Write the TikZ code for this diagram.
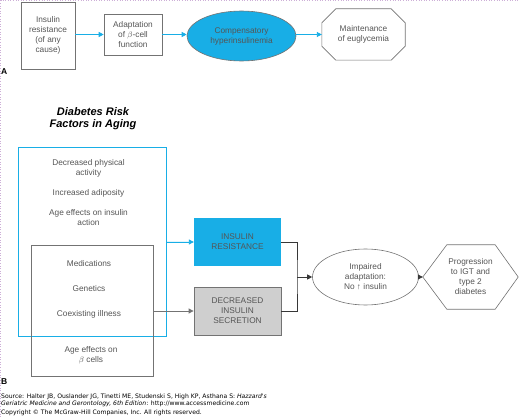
\documentclass[tikz,border=0pt]{standalone}
\usepackage{fontspec}
\setmainfont{Liberation Sans}
\newfontfamily\srcfont{DejaVu Sans}
\usepackage{tikz}
\usetikzlibrary{shapes.geometric,positioning,arrows.meta}

\definecolor{figcyan}{RGB}{24,174,230}
\definecolor{figtext}{RGB}{85,85,85}
\definecolor{figline}{RGB}{115,115,115}
\definecolor{figdark}{RGB}{55,55,55}
\definecolor{figgray}{RGB}{207,207,207}
\definecolor{figedge}{RGB}{205,175,215}

\begin{document}
\begin{tikzpicture}[x=1pt,y=-1pt,>={Triangle[length=5pt,width=5pt]},
  font=\fontsize{8.3}{10}\selectfont,
  every node/.style={text=figtext,align=center,inner sep=0pt},
  abox/.style={draw=figline,line width=0.6pt},
  bluearrow/.style={->,draw=figcyan,fill=figcyan,line width=0.9pt},
  darkarrow/.style={->,draw=figdark,line width=0.8pt},
  panel/.style={text=black,font=\fontsize{8.5}{10}\bfseries\selectfont},
  source/.style={anchor=west,text=black,font=\fontsize{6.1}{7}\srcfont}]
\useasboundingbox (0,0) rectangle (520,417);
\draw[figedge,dotted,line width=0.6pt] (0.5,417) -- (0.5,0.5) -- (520,0.5);

% panel A
\node[abox,minimum width=54pt,minimum height=67pt] (insres) at (48,35.5) {Insulin\\resistance\\(of any\\cause)};
\node[abox,minimum width=58pt,minimum height=41pt] (adapt) at (133,34.5) {Adaptation\\of $\beta$-cell\\function};
\node[ellipse,draw=figline,line width=0.6pt,fill=figcyan,minimum width=109pt,minimum height=50pt] (comp) at (241.5,36) {Compensatory\\hyperinsulinemia};
\node[minimum width=83pt,minimum height=51pt] (maint) at (363.5,34.5) {Maintenance\\of euglycemia};
\draw[abox] ([xshift=14pt]maint.north west) -- ([xshift=-14pt]maint.north east) -- ([yshift=-14pt]maint.north east)
  -- ([yshift=14pt]maint.south east) -- ([xshift=-14pt]maint.south east) -- ([xshift=14pt]maint.south west)
  -- ([yshift=14pt]maint.south west) -- ([yshift=-14pt]maint.north west) -- cycle;
\draw[bluearrow] (insres.east |- adapt) -- (adapt.west);
\draw[bluearrow] (adapt.east) -- (comp.west |- adapt);
\draw[bluearrow] (comp.east |- adapt) -- (maint.west |- adapt);
\node[panel,anchor=west] (labA) at (1,72) {A};

% panel B
\node[text=black,font=\fontsize{11}{12}\bfseries\itshape\selectfont] (title) at (93,118.5) {Diabetes Risk\\Factors in Aging};
\node[draw=figcyan,line width=1pt,minimum width=148pt,minimum height=188pt] (riskbox) at (92,242) {};
\node[draw=figline,line width=0.8pt,minimum width=122pt,minimum height=131pt] (betabox) at (92,310.5) {};
\node (physact) at (88.5,168) {Decreased physical\\activity};
\node (adipos) at (88.5,193) {Increased adiposity};
\node (insact) at (88.5,218) {Age effects on insulin\\action};
\node (meds) at (89,264) {Medications};
\node (genes) at (89,289) {Genetics};
\node (coexist) at (89,314) {Coexisting illness};
\node (betacell) at (91,355) {Age effects on\\$\beta$ cells};

\node[fill=figcyan,minimum width=87pt,minimum height=48pt] (irbox) at (237.5,242) {INSULIN\\RESISTANCE};
\node[draw=figline,line width=0.8pt,fill=figgray,minimum width=87pt,minimum height=48pt] (disbox) at (237.5,311) {DECREASED\\INSULIN\\SECRETION};
\node[ellipse,draw=figline,line width=0.6pt,minimum width=106pt,minimum height=56pt] (impair) at (365.5,277) {Impaired\\adaptation:\\No ↑ insulin};
\node[minimum width=95pt,minimum height=64pt] (progress) at (470.5,277) {Progression\\to IGT and\\type 2\\diabetes};
\draw[abox] (progress.west) -- ([xshift=24pt]progress.north west) -- ([xshift=-23pt]progress.north east) -- (progress.east)
  -- ([xshift=-23pt]progress.south east) -- ([xshift=24pt]progress.south west) -- cycle;

\coordinate (join) at (297,277);
\draw[bluearrow] (riskbox.east) -- (irbox.west);
\draw[->,draw=figline,fill=figline,line width=0.8pt] (betabox.east |- disbox) -- (disbox.west);
\draw[figdark,line width=0.8pt] (irbox.east) -| (join) |- (disbox.east);
\draw[darkarrow] (join) -- (impair.west);
\draw[darkarrow] (impair.east) -- (progress.west);
\node[panel,anchor=west] (labB) at (1,382) {B};

% source lines
\node[source] (src1) at (1,397) {Source: Halter JB, Ouslander JG, Tinetti ME, Studenski S, High KP, Asthana S: \textit{Hazzard's}};
\node[source] (src2) at (1,403.5) {\textit{Geriatric Medicine and Gerontology, 6th Edition}: http://www.accessmedicine.com};
\node[source] (copyr) at (1,413) {Copyright © The McGraw-Hill Companies, Inc. All rights reserved.};
\end{tikzpicture}
\end{document}
